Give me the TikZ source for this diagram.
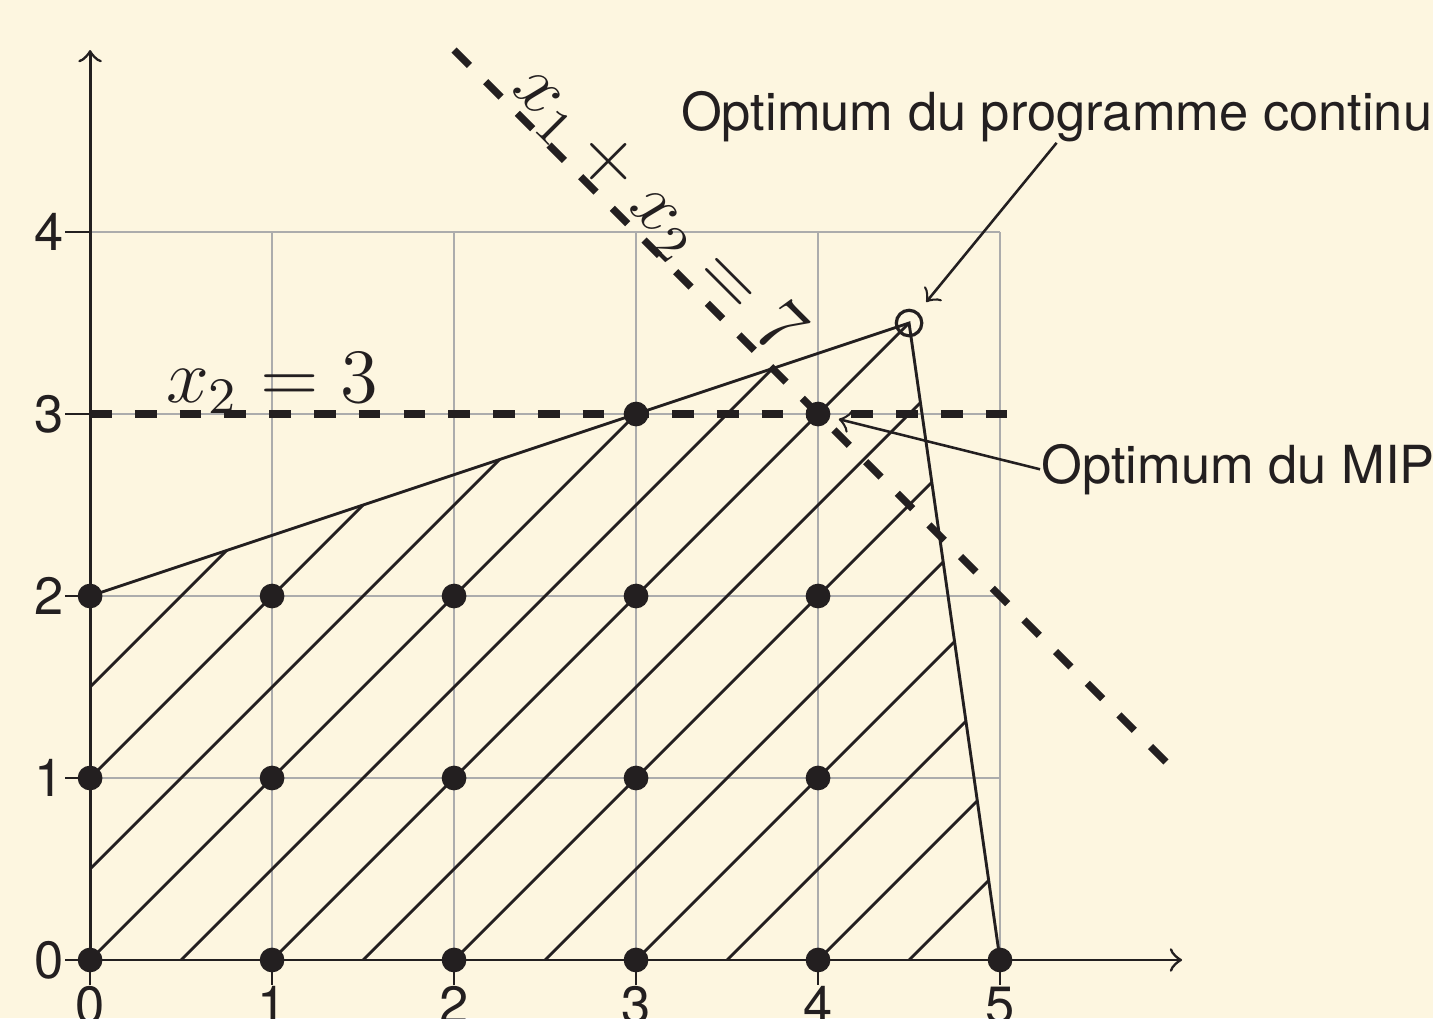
\documentclass[tikz,border=0pt]{standalone}
\usepackage{fontspec}
\setsansfont{TeX Gyre Heros}
\usepackage{tikz}
\usetikzlibrary{positioning,calc}
\definecolor{bgcream}{HTML}{FDF6E0}
\definecolor{ink}{HTML}{231F20}

\begin{document}
\begin{tikzpicture}[
  every node/.style={font=\sffamily\fontsize{8.2}{10}\selectfont,text=ink},
  axis/.style={->,ink,line width=0.45pt},
  tick/.style={ink,line width=0.4pt},
  dot/.style={circle,fill=ink,inner sep=0pt,minimum size=1.36mm},
  hole/.style={circle,draw=ink,line width=0.5pt,inner sep=0pt,minimum size=1.4mm},
  cut/.style={ink,line width=1.15pt,dash pattern=on 3.4pt off 3.6pt},
  hatch/.style={ink,line width=0.45pt},
  eqlabel/.style={font=\fontsize{12}{14}\selectfont,inner sep=0pt},
  note/.style={inner sep=0pt},
  pointer/.style={->,ink,line width=0.4pt}
]
  \useasboundingbox (-0.495,-0.319) rectangle (7.379,5.275);
  \fill[bgcream] (-0.495,-0.319) rectangle (7.379,5.275);
  % grid
  \draw[gray!65,line width=0.25pt] (0,0) grid (5,4);
  % feasible region, hatched
  \begin{scope}
    \clip (0,0) -- (5,0) -- (4.5,3.5) -- (0,2) -- cycle;
    \foreach \k in {-4,...,9}
      \draw[hatch] (\k*0.5,0) -- ++(5,5);
  \end{scope}
  \draw[hatch] (0,2) -- (4.5,3.5) -- (5,0);
  % cuts
  \draw[cut] (0,3) -- (5.1,3);
  \draw[cut] (2,5) -- (6,1);
  % axes and ticks
  \draw[axis] (0,0) -- (6,0);
  \draw[axis] (0,0) -- (0,5);
  \foreach \y in {0,...,4}
    \draw[tick] (0,\y) -- (-0.14,\y) node[left,inner sep=0pt] (ylab\y) {\y};
  \foreach \x in {0,...,5}
    \draw[tick] (\x,0) -- (\x,-0.14) node[below,inner sep=0pt] (xlab\x) {\x};
  % integer points
  \foreach \x/\y in {0/0,1/0,2/0,3/0,4/0,5/0,0/1,1/1,2/1,3/1,4/1,0/2,1/2,2/2,3/2,4/2,3/3,4/3}
    \node[dot] (p\x\y) at (\x,\y) {};
  \node[hole] (lpopt) at (4.5,3.5) {};
  % labels
  \node[eqlabel,anchor=base] (hlab) at (1,3.066) {$x_2 = 3$};
  \node[eqlabel,anchor=base,rotate=-45] (slab) at (3.042,4.042) {$x_1 + x_2 = 7$};
  \node[note,anchor=base west] (contlab) at (3.24,4.56) {Optimum du programme continu};
  \node[note,anchor=base west] (miplab) at (5.22,2.62) {Optimum du MIP};
  \draw[pointer,shorten >=2pt] (contlab.south) -- (lpopt);
  \draw[pointer,shorten >=1.2pt] (miplab.west) -- (p43);
\end{tikzpicture}
\end{document}
